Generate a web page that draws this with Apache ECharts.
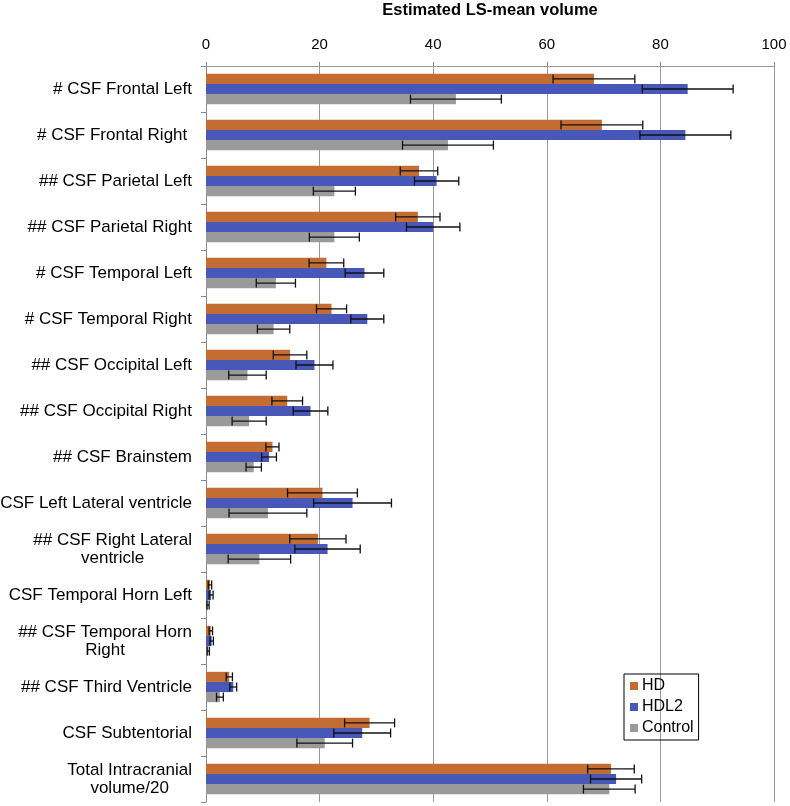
<!DOCTYPE html>
<html>
<head>
<meta charset="utf-8">
<script src="https://cdn.jsdelivr.net/npm/echarts@6/dist/echarts.min.js"></script>
<style>
html,body{margin:0;padding:0;background:#fff;}
#chart{width:790px;height:806px;}
</style>
</head>
<body>
<div id="chart"></div>
<script>
const categories = ['# CSF Frontal Left', '# CSF Frontal Right ', '## CSF Parietal Left', '## CSF Parietal Right',
  '# CSF Temporal Left', '# CSF Temporal Right', '## CSF Occipital Left', '## CSF Occipital Right',
  '## CSF Brainstem', 'CSF Left Lateral ventricle', '## CSF Right Lateral\nventricle', 'CSF Temporal Horn Left',
  '## CSF Temporal Horn\nRight', '## CSF Third Ventricle', 'CSF Subtentorial', 'Total Intracranial\nvolume/20'];
const seriesNames = ['HD', 'HDL2', 'Control'];
const hd        = [68.3, 69.7, 37.5, 37.3, 21.2, 22.1, 14.8, 14.3, 11.7, 20.5, 19.7, 0.7, 0.85, 4.1, 28.8, 71.3];
const hdErr     = [7.2, 7.2, 3.3, 3.9, 3.05, 2.65, 2.95, 2.7, 1.15, 6.15, 4.95, 0.3, 0.3, 0.55, 4.4, 4.1];
const hdl2      = [84.8, 84.4, 40.6, 40.0, 27.9, 28.4, 19.1, 18.4, 11.1, 25.8, 21.4, 0.9, 1.0, 4.8, 27.5, 72.2];
const hdl2Err   = [8.0, 8.0, 3.9, 4.7, 3.4, 2.9, 3.25, 3.05, 1.3, 6.85, 5.75, 0.35, 0.3, 0.6, 5.0, 4.5];
const control   = [44.0, 42.6, 22.6, 22.6, 12.3, 11.9, 7.3, 7.6, 8.4, 10.9, 9.4, 0.35, 0.4, 2.45, 20.9, 71.0];
const controlErr= [8.0, 8.0, 3.7, 4.4, 3.45, 2.85, 3.3, 3.0, 1.35, 6.85, 5.5, 0.2, 0.2, 0.6, 4.9, 4.55];
const xTicks = [0, 20, 40, 60, 80, 100];

const colors = ['#C46D33', '#4858B8', '#9A9A9A'];
const values = [hd, hdl2, control];
const errs = [hdErr, hdl2Err, controlErr];
const GAP = 0.34;
const FONT = '"Liberation Sans", Arial, sans-serif';

const chart = echarts.init(document.getElementById('chart'), null, {renderer: 'canvas'});

function errRender(k) {
  return function (params, api) {
    const cat = api.value(2);
    const lo = api.coord([api.value(0), cat]);
    const hi = api.coord([api.value(1), cat]);
    const band = api.size([0, 1])[1];
    const bw = band * (1 - GAP) / 3;
    const y = lo[1] + (k - 1) * bw;
    const c = 4.5;
    const st = {stroke: '#111', lineWidth: 1.3};
    return {type: 'group', children: [
      {type: 'line', shape: {x1: lo[0], y1: y, x2: hi[0], y2: y}, style: st},
      {type: 'line', shape: {x1: lo[0], y1: y - c, x2: lo[0], y2: y + c}, style: st},
      {type: 'line', shape: {x1: hi[0], y1: y - c, x2: hi[0], y2: y + c}, style: st}
    ]};
  };
}

const series = [];
seriesNames.forEach((n, k) => {
  series.push({
    name: n, type: 'bar', data: values[k], barGap: '0%', barCategoryGap: (GAP * 100) + '%',
    itemStyle: {color: colors[k]}, z: 2
  });
});
seriesNames.forEach((n, k) => {
  series.push({
    name: n + ' err', type: 'custom', renderItem: errRender(k), clip: false, z: 5,
    encode: {x: [0, 1], y: 2},
    data: values[k].map((v, i) => [v - errs[k][i], v + errs[k][i], i])
  });
});

chart.setOption({
  animation: false,
  title: {
    text: 'Estimated LS-mean volume', left: 490, top: 2, textAlign: 'center', padding: 0,
    textStyle: {fontFamily: FONT, fontSize: 16.5, fontWeight: 'bold', color: '#000'}
  },
  legend: {
    data: seriesNames, orient: 'vertical', left: 624, top: 674,
    icon: 'rect', itemWidth: 8, itemHeight: 8, itemGap: 5,
    borderColor: '#000', borderWidth: 1, padding: [4, 5, 4, 6],
    textStyle: {fontFamily: FONT, fontSize: 16, color: '#000', padding: [0, 0, 0, -1]}
  },
  grid: {left: 206, right: 16, top: 66, bottom: 4, containLabel: false, outerBoundsMode: 'none'},
  xAxis: {
    type: 'value', position: 'top', min: 0, max: 100, interval: 20,
    axisLine: {show: true, lineStyle: {color: '#999', width: 1}},
    axisTick: {show: true, inside: false, length: 4, lineStyle: {color: '#888'}},
    axisLabel: {fontFamily: FONT, fontSize: 15, color: '#000', margin: 14,
      formatter: v => xTicks.indexOf(v) >= 0 ? String(v) : ''},
    splitLine: {show: true, lineStyle: {color: '#999', width: 1}}
  },
  yAxis: {
    type: 'category', data: categories, inverse: true,
    axisLine: {show: true, lineStyle: {color: '#888', width: 1}},
    axisTick: {show: true, length: 5, lineStyle: {color: '#888'}},
    axisLabel: {
      margin: 14, color: '#000', fontFamily: FONT, fontSize: 17, lineHeight: 18,
      formatter: v => v.split('\n').map(s => '{c|' + s + '}').join('\n'),
      rich: {c: {fontFamily: FONT, fontSize: 17, lineHeight: 18, align: 'center', color: '#000'}}
    }
  },
  series: series
});
</script>
</body>
</html>
